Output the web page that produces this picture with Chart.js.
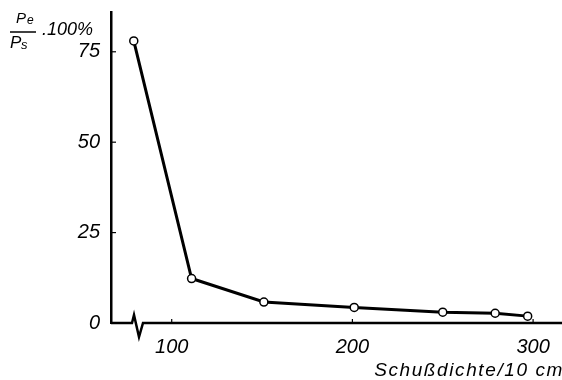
<!DOCTYPE html>
<html>
<head>
<meta charset="utf-8">
<script src="https://cdn.jsdelivr.net/npm/chart.js@4"></script>
<style>
  html, body { margin: 0; padding: 0; background: #fff; }
</style>
</head>
<body>
<canvas id="kurve" width="562" height="380"></canvas>
<script>
// Werte
const schussdichte = [79, 111, 151, 201, 250, 279, 297];
const verhaeltnis = [78, 12.3, 5.8, 4.3, 3.0, 2.7, 1.9];
const xTickWerte = [100, 200, 300];
const yTickWerte = [0, 25, 50, 75];

const schrift = '"Liberation Sans", Arial, sans-serif';

// eigene Achsen-Zeichnung: Striche nach innen, Achsenbruch, Beschriftungen
const achsenPlugin = {
  id: 'achsen',
  afterDraw(chart) {
    const ctx = chart.ctx;
    const area = chart.chartArea;
    const xs = chart.scales.x, ys = chart.scales.y;
    ctx.save();
    ctx.strokeStyle = '#000';
    ctx.fillStyle = '#000';

    // x-Achse mit Bruch
    const y0 = area.bottom;
    ctx.lineWidth = 2.5;
    ctx.beginPath();
    ctx.moveTo(area.left, y0);
    ctx.lineTo(area.left + 21, y0);
    ctx.lineTo(area.left + 23, y0 - 8);
    ctx.lineTo(area.left + 28, y0 + 14);
    ctx.lineTo(area.left + 32, y0);
    ctx.lineTo(area.right, y0);
    ctx.stroke();

    // kleine Striche
    ctx.lineWidth = 1.2;
    xTickWerte.forEach(v => {
      const px = xs.getPixelForValue(v);
      ctx.beginPath();
      ctx.moveTo(px, y0);
      ctx.lineTo(px, y0 - 4);
      ctx.stroke();
    });
    yTickWerte.slice(1).forEach(v => {
      const py = ys.getPixelForValue(v);
      ctx.beginPath();
      ctx.moveTo(area.left, py);
      ctx.lineTo(area.left + 5, py);
      ctx.stroke();
    });

    // y-Achsentitel als Bruch
    ctx.textBaseline = 'alphabetic';
    ctx.textAlign = 'left';
    ctx.font = 'italic 15px ' + schrift;
    ctx.fillText('P', 16, 23);
    ctx.font = 'italic 12px ' + schrift;
    ctx.fillText('e', 27, 24);
    ctx.lineWidth = 1.5;
    ctx.beginPath();
    ctx.moveTo(10, 32);
    ctx.lineTo(36, 32);
    ctx.stroke();
    ctx.font = 'italic 17px ' + schrift;
    ctx.fillText('P', 10, 48);
    ctx.font = 'italic 13px ' + schrift;
    ctx.fillText('s', 21, 49);
    ctx.font = 'italic 18px ' + schrift;
    ctx.fillText('.100%', 42, 35);

    // x-Achsentitel
    ctx.font = 'italic 19px ' + schrift;
    ctx.textAlign = 'right';
    ctx.letterSpacing = '1.6px';
    ctx.fillText('Schußdichte/10 cm', 564, 376);
    ctx.restore();
  }
};

new Chart(document.getElementById('kurve'), {
  type: 'scatter',
  data: {
    datasets: [{
      data: schussdichte.map((x, i) => ({ x: x, y: verhaeltnis[i] })),
      showLine: true,
      borderColor: '#000',
      borderWidth: 3,
      pointRadius: 4,
      pointBorderWidth: 1.5,
      pointBackgroundColor: '#fff',
      pointBorderColor: '#000',
      clip: false
    }]
  },
  options: {
    responsive: false,
    animation: false,
    devicePixelRatio: 1,
    layout: { autoPadding: false, padding: { top: 12, right: 0, left: 0, bottom: 0 } },
    plugins: {
      legend: { display: false },
      tooltip: { enabled: false }
    },
    scales: {
      x: {
        type: 'linear',
        min: 66.4,
        max: 316,
        grid: { display: false, drawTicks: false },
        border: { display: false },
        afterBuildTicks: s => { s.ticks = xTickWerte.map(v => ({ value: v })); },
        afterFit: s => { s.height = 57; s.paddingLeft = 0; s.paddingRight = 0; },
        ticks: {
          color: '#000',
          padding: 12,
          maxRotation: 0,
          font: { family: schrift, style: 'italic', size: 20 }
        }
      },
      y: {
        min: 0,
        max: 86,
        grid: { display: false, drawTicks: false },
        border: { display: true, color: '#000', width: 2.5 },
        afterBuildTicks: s => { s.ticks = yTickWerte.map(v => ({ value: v })); },
        afterFit: s => { s.width = 111; s.paddingTop = 0; s.paddingBottom = 0; },
        ticks: {
          color: '#000',
          padding: 11,
          font: { family: schrift, style: 'italic', size: 20 }
        }
      }
    }
  },
  plugins: [achsenPlugin]
});
</script>
</body>
</html>
